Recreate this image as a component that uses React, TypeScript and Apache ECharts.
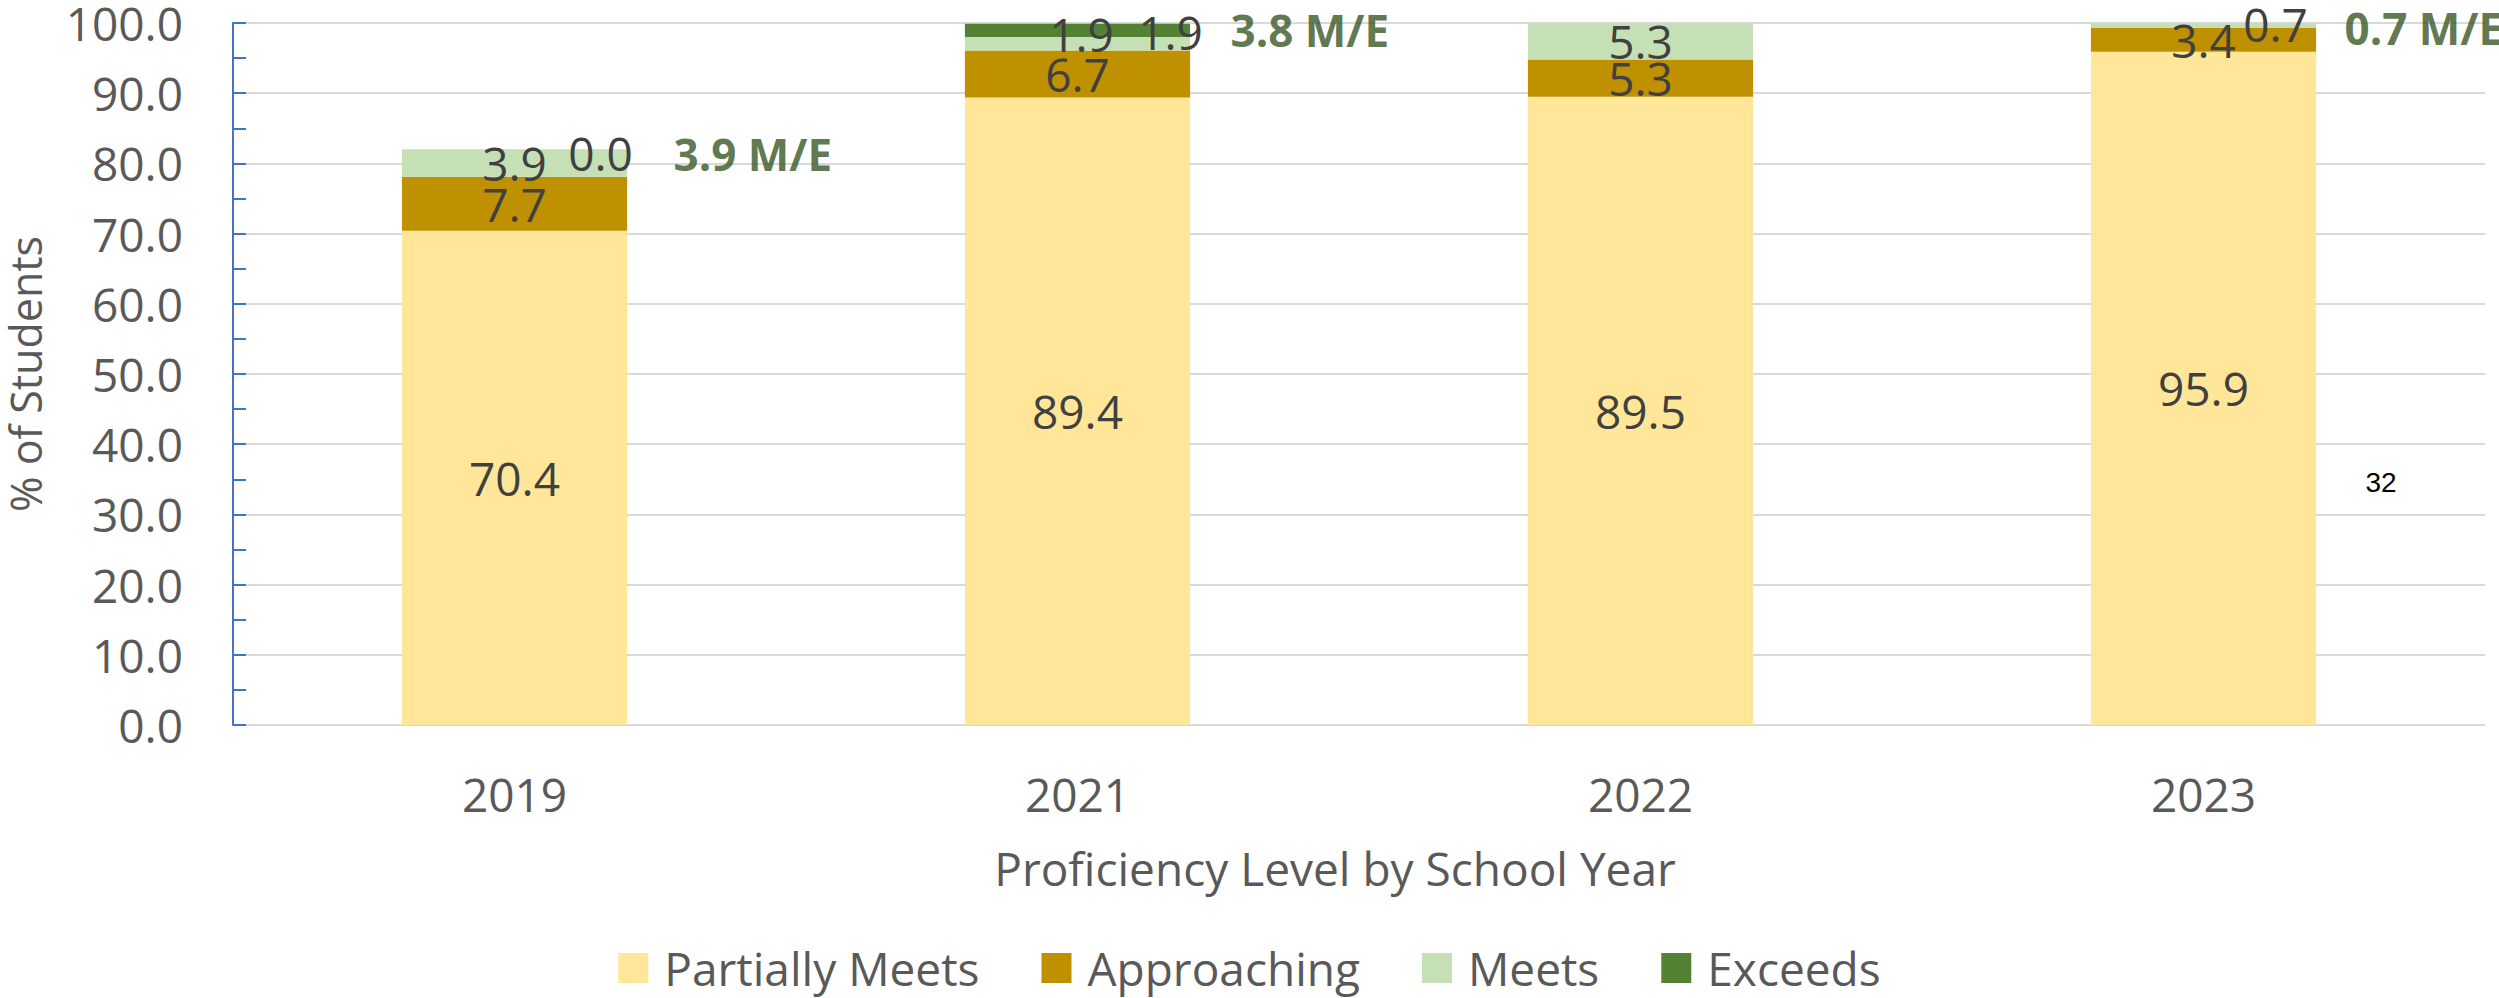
import React, { useEffect, useRef } from "react";
import * as echarts from "echarts";

// ---- data ----
const years = ["2019", "2021", "2022", "2023"];
const seriesNames = ["Partially Meets", "Approaching", "Meets", "Exceeds"];
const partiallyMeets = [70.4, 89.4, 89.5, 95.9];
const approaching = [7.7, 6.7, 5.3, 3.4];
const meets = [3.9, 1.9, 5.3, 0.7];
const exceeds = [0.0, 1.9, 0.0, 0.0];
const exceedsLabelShown = [true, true, false, false];
const yAxisTitle = "% of Students";
const xAxisTitle = "Proficiency Level by School Year";
const pageNumber = "32";

// ---- style ----
const FONT = "'Open Sans', 'Noto Sans', sans-serif";
const COLORS = ["#FFE699", "#BF9000", "#C5E0B4", "#548235"];
const AXIS_TEXT = "#595959";
const LABEL_TEXT = "#404040";
const meetsLabelOffsets = [[0, 0], [4, -10], [0, 0], [72, -1]];
const exceedsLabelOffsets = [[86, 4], [93, 2], [0, 0], [0, 0]];
const meLabelOffsets = [[154, 5], [148, 6], [127, 6], [136, 5]];

export default function App() {
  const ref = useRef<HTMLDivElement>(null);

  useEffect(() => {
    if (!ref.current) return;
    const chart = echarts.init(ref.current, null, { renderer: "svg" });

    const totals = years.map(
      (_, i) => partiallyMeets[i] + approaching[i] + meets[i] + exceeds[i]
    );
    const meSum = years.map((_, i) => meets[i] + exceeds[i]);

    const labelBase = {
      show: true,
      position: "inside",
      color: LABEL_TEXT,
      fontSize: 46,
      fontFamily: FONT,
      formatter: (p: any) => Number(p.value).toFixed(1),
    };

    const barSeries = (name: string, idx: number, values: number[], itemLabel?: (i: number) => any) => ({
      type: "bar",
      name,
      stack: "total",
      barWidth: "40%",
      itemStyle: { color: COLORS[idx] },
      label: labelBase,
      data: values.map((v, i) => (itemLabel ? { value: v, label: itemLabel(i) } : v)),
    });

    const option: any = {
      animation: false,
      backgroundColor: "#ffffff",
      textStyle: { fontFamily: FONT },
      grid: {
        left: 233,
        right: 14,
        top: 23,
        bottom: 273,
        containLabel: false,
        outerBoundsMode: "none",
      },
      legend: {
        data: seriesNames,
        left: "center",
        top: 940,
        icon: "rect",
        itemWidth: 30,
        itemHeight: 30,
        itemGap: 62,
        selectedMode: false,
        textStyle: {
          fontSize: 46,
          fontFamily: FONT,
          color: AXIS_TEXT,
          padding: [0, 0, 0, 11],
        },
      },
      xAxis: {
        type: "category",
        data: years,
        axisLine: { show: false },
        axisTick: { show: false },
        axisLabel: { fontSize: 46, color: AXIS_TEXT, margin: 46, fontFamily: FONT },
        name: xAxisTitle,
        nameLocation: "middle",
        nameGap: 120,
        nameTextStyle: {
          fontSize: 46,
          color: AXIS_TEXT,
          fontFamily: FONT,
          padding: [0, 48, 0, 0],
        },
      },
      yAxis: [
        {
          type: "value",
          min: 0,
          max: 100,
          interval: 10,
          axisLine: { show: true, lineStyle: { color: "#4472C4", width: 2 } },
          axisTick: { show: false },
          axisLabel: {
            fontSize: 46,
            color: AXIS_TEXT,
            margin: 50,
            fontFamily: FONT,
            formatter: (v: number) => v.toFixed(1),
          },
          splitLine: { show: true, lineStyle: { color: "#D9D9D9", width: 2 } },
          name: yAxisTitle,
          nameLocation: "middle",
          nameGap: 186,
          nameRotate: 90,
          nameTextStyle: { fontSize: 43, color: AXIS_TEXT, fontFamily: FONT },
        },
        {
          type: "value",
          position: "left",
          min: 0,
          max: 100,
          interval: 5,
          axisLine: { show: false },
          axisTick: {
            show: true,
            inside: true,
            length: 13,
            lineStyle: { color: "#4472C4", width: 2 },
          },
          axisLabel: { show: false },
          splitLine: { show: false },
        },
      ],
      series: [
        barSeries(seriesNames[0], 0, partiallyMeets),
        barSeries(seriesNames[1], 1, approaching),
        barSeries(seriesNames[2], 2, meets, (i) => ({ offset: meetsLabelOffsets[i] })),
        barSeries(seriesNames[3], 3, exceeds, (i) => ({
          show: exceedsLabelShown[i],
          offset: exceedsLabelOffsets[i],
        })),
        {
          type: "scatter",
          name: "M/E",
          symbolSize: 0,
          silent: true,
          z: 5,
          data: years.map((_, i) => ({
            value: [i, totals[i]],
            label: { offset: meLabelOffsets[i] },
          })),
          label: {
            show: true,
            position: "right",
            color: "#375623",
            fontWeight: "bold",
            fontSize: 44,
            fontFamily: FONT,
            formatter: (p: any) => `${meSum[p.dataIndex].toFixed(1)} M/E`,
          },
        },
      ],
      graphic: [
        {
          type: "text",
          x: 2381,
          y: 482,
          style: {
            text: pageNumber,
            fill: "#000000",
            font: "28px 'Liberation Sans', Arial, sans-serif",
            textAlign: "center",
            textVerticalAlign: "middle",
          },
        },
      ],
    };

    chart.setOption(option);
    return () => chart.dispose();
  }, []);

  return (
    <div
      ref={ref}
      style={{ position: "fixed", left: 0, top: 0, width: 2499, height: 998, background: "#fff" }}
    />
  );
}
